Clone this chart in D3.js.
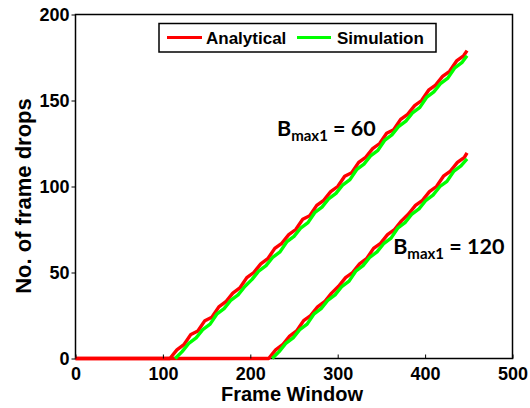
<!DOCTYPE html>
<html>
<head>
<meta charset="utf-8">
<style>
  body { margin: 0; background: #fff; }
  svg { display: block; }
  .axis text { font-family: "Liberation Sans", Arial, sans-serif; font-weight: bold; font-size: 18px; fill: #000; }
  .axis .domain { display: none; }
  .axis .tick line { stroke: #000; stroke-width: 1; }
  .title { font-family: "Liberation Sans", Arial, sans-serif; font-weight: bold; fill: #000; }
  .legend text { font-family: "Liberation Sans", Arial, sans-serif; font-weight: bold; font-size: 17px; }
  .note { font-family: Lato, "Open Sans", sans-serif; font-weight: bold; fill: #000; }
</style>
</head>
<body>
<svg width="530" height="408"></svg>
<script src="https://d3js.org/d3.v7.min.js"></script>
<script>
// frame window positions and drop counts
let xA60 = [0, 108, 116, 124, 132, 140, 148, 156, 164, 172, 180, 188, 196, 204, 212, 220, 228, 236, 244, 252, 260, 268, 276, 284, 292, 300, 308, 316, 324, 332, 340, 348, 356, 364, 372, 380, 388, 396, 404, 412, 420, 428, 436, 444, 448];
let yA60 = [0, 0, 5, 8, 14, 16, 22, 24, 30, 33, 38, 41, 47, 50, 55, 58, 64, 67, 72, 75, 81, 83, 89, 92, 97, 100, 106, 108, 114, 117, 122, 125, 131, 133, 139, 142, 147, 150, 156, 159, 164, 167, 173, 176, 179];

let xS60 = [114, 122, 130, 138, 146, 154, 162, 170, 178, 186, 194, 202, 210, 218, 226, 234, 242, 250, 258, 266, 274, 282, 290, 298, 306, 314, 322, 330, 338, 346, 354, 362, 370, 378, 386, 394, 402, 410, 418, 426, 434, 442, 448];
let yS60 = [0, 4, 9, 12, 17, 20, 26, 29, 34, 37, 42, 46, 51, 54, 59, 62, 68, 71, 76, 79, 85, 88, 93, 96, 101, 104, 110, 113, 118, 121, 127, 130, 135, 138, 143, 146, 152, 155, 160, 163, 169, 172, 176];

let xA120 = [0, 221, 229, 237, 245, 253, 261, 269, 277, 285, 293, 301, 309, 317, 325, 333, 341, 349, 357, 365, 373, 381, 389, 397, 405, 413, 421, 429, 437, 445, 448];
let yA120 = [0, 0, 5, 8, 13, 16, 22, 25, 30, 33, 38, 42, 47, 50, 55, 58, 64, 67, 72, 75, 80, 84, 89, 92, 97, 100, 106, 109, 114, 117, 119.5];

let xS120 = [225, 233, 241, 249, 257, 265, 273, 281, 289, 297, 305, 313, 321, 329, 337, 345, 353, 361, 369, 377, 385, 393, 401, 409, 417, 425, 433, 441, 448];
let yS120 = [0, 4, 9, 12, 17, 20, 26, 29, 34, 37, 42, 45, 51, 54, 59, 62, 67, 70, 76, 79, 84, 87, 92, 95, 100, 103, 109, 112, 116];

let xTicks = [0, 100, 200, 300, 400, 500];
let yTicks = [0, 50, 100, 150, 200];

let svg = d3.select("svg");
let margin = { top: 14.5, right: 17.5, bottom: 49.5, left: 75.5 };
let width = 530, height = 408;

let x = d3.scaleLinear().domain([0, 500]).range([margin.left, width - margin.right]);
let y = d3.scaleLinear().domain([0, 200]).range([height - margin.bottom, margin.top]);

let line = d3.line().x(d => x(d[0])).y(d => y(d[1]));

let series = [
  { xs: xA60, ys: yA60, color: "#ff0000" },
  { xs: xA120, ys: yA120, color: "#ff0000" },
  { xs: xS60, ys: yS60, color: "#00ff00" },
  { xs: xS120, ys: yS120, color: "#00ff00" }
];

// box
svg.append("rect")
  .attr("x", x(0)).attr("y", y(200))
  .attr("width", x(500) - x(0)).attr("height", y(0) - y(200))
  .attr("fill", "none").attr("stroke", "#000").attr("stroke-width", 1.5);

svg.append("g")
  .selectAll("path")
  .data(series)
  .join("path")
  .attr("d", s => line(s.xs.map((v, i) => [v, s.ys[i]])))
  .attr("fill", "none")
  .attr("stroke", s => s.color)
  .attr("stroke-width", 3.4)
  .attr("stroke-linejoin", "round");

// axes
svg.append("g")
  .attr("class", "x axis")
  .attr("transform", `translate(0,${y(0)})`)
  .call(d3.axisBottom(x).tickValues(xTicks).tickSize(-4).tickPadding(9));

svg.append("g")
  .attr("class", "y axis")
  .attr("transform", `translate(${x(0)},0)`)
  .call(d3.axisLeft(y).tickValues(yTicks).tickSize(4).tickPadding(2));

// axis titles
svg.append("text")
  .attr("class", "title")
  .attr("x", 292).attr("y", 400.5)
  .attr("text-anchor", "middle")
  .attr("font-size", 20)
  .text("Frame Window");

svg.append("text")
  .attr("class", "title")
  .attr("transform", "translate(31,196) rotate(-90)")
  .attr("text-anchor", "middle")
  .attr("font-size", 22)
  .text("No. of frame drops");

// legend
let legend = svg.append("g").attr("class", "legend");
legend.append("rect")
  .attr("x", 159).attr("y", 23.5).attr("width", 277).attr("height", 28.5)
  .attr("fill", "#fff").attr("stroke", "#000").attr("stroke-width", 1.5);
legend.append("line").attr("x1", 167).attr("x2", 202).attr("y1", 37.5).attr("y2", 37.5)
  .attr("stroke", "#ff0000").attr("stroke-width", 3);
legend.append("text").attr("x", 206).attr("y", 43.5).text("Analytical");
legend.append("line").attr("x1", 297).attr("x2", 331).attr("y1", 37.5).attr("y2", 37.5)
  .attr("stroke", "#00ff00").attr("stroke-width", 3);
legend.append("text").attr("x", 337).attr("y", 43.5).text("Simulation");

// annotations
function note(xv, yv, val) {
  let t = svg.append("text").attr("class", "note")
    .attr("x", x(xv)).attr("y", y(yv)).attr("font-size", 21.5);
  t.append("tspan").text("B");
  t.append("tspan").attr("font-size", 15).attr("dy", 5).text("max1");
  t.append("tspan").attr("dy", -5).text(" = " + val);
}
note(230.5, 129.4, "60");
note(363.5, 60.7, "120");
</script>
</body>
</html>
